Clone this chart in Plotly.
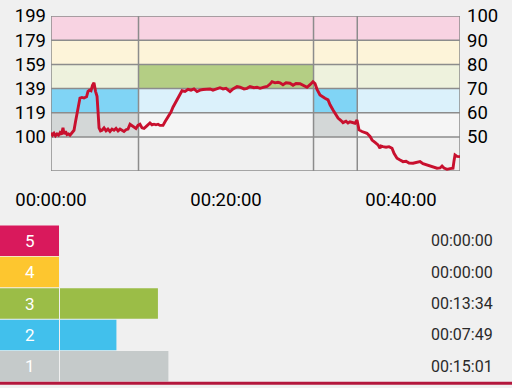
import plotly.graph_objects as go

# ---------------- data ----------------
time_min = [0, 0.17, 0.34, 0.51, 0.69, 0.86, 1.03, 1.2, 1.37, 1.49, 1.66, 1.83, 2.0, 2.17, 2.4, 2.63,
            2.8, 2.97, 3.14, 3.31, 3.54, 3.77, 4.06, 4.23, 4.4, 4.57, 4.74, 4.91, 5.09, 5.26, 5.37,
            5.49, 5.66, 5.83, 6.06, 6.29, 6.51, 6.74, 6.97, 7.2, 7.43, 7.66, 7.89, 8.11, 8.34, 8.57,
            8.8, 9.03, 9.26, 9.49, 9.71, 9.94, 10.17, 10.4, 10.63, 10.86, 11.09, 11.31, 11.54, 11.77,
            12.0, 12.23, 12.46, 12.8, 13.03, 13.37, 13.71, 13.94, 14.29, 14.51, 14.74, 14.97, 15.31,
            15.66, 16.0, 16.34, 16.69, 17.03, 17.37, 17.83, 18.17, 18.51, 18.97, 19.31, 19.66, 20.0,
            20.46, 20.8, 21.26, 21.6, 22.06, 22.4, 22.74, 23.2, 23.54, 23.89, 24.34, 24.69, 25.03,
            25.26, 25.6, 25.94, 26.17, 26.51, 26.86, 27.31, 27.66, 28.0, 28.46, 28.8, 29.26, 29.6,
            29.94, 30.17, 30.4, 30.74, 30.97, 31.31, 31.66, 31.89, 32.23, 32.57, 32.8, 33.14, 33.37,
            33.71, 33.94, 34.17, 34.51, 34.74, 34.97, 35.2, 35.54, 35.89, 36.11, 36.46, 36.69, 37.03,
            37.37, 37.6, 37.71, 37.94, 38.29, 38.63, 38.97, 39.2, 39.54, 39.89, 40.23, 40.57, 40.91,
            41.37, 41.71, 42.17, 42.51, 42.97, 43.31, 43.66, 44.11, 44.46, 44.69, 44.91, 45.26, 45.6,
            45.94, 46.06, 46.17, 46.4, 46.74]
heart_rate = [103, 101, 102.5, 100.5, 102, 101, 103, 101.5, 107, 102, 104, 101.5, 102, 101, 103, 105,
              112, 119, 127, 131.5, 132, 131.5, 132.5, 137, 138, 137.5, 142, 144, 137, 133, 121,
              107, 104.5, 105, 107, 104.5, 106, 104, 106, 105, 106.5, 104.5, 106, 105, 104, 105.5,
              106, 110, 109, 108, 106.5, 109, 110, 107, 106.5, 108, 110, 111, 109.5, 110,
              109.5, 110, 109, 109, 112, 116, 120, 124, 128.5, 132.5, 135, 137.5, 137,
              138.7, 138, 139, 136.8, 138, 138.5, 138.7, 139, 138, 139.5, 140, 139, 139.5,
              136.8, 139, 140.9, 140.5, 139, 139.5, 141, 140, 140.4, 139.5, 140.5, 141, 143,
              145, 144, 144.5, 144, 142.5, 144, 143.7, 142, 143.5, 143.3, 142, 140.4, 142.5,
              145, 143.5, 138.7, 134, 132.6, 131.3, 130, 126, 121.7, 117.5, 115, 113, 111.3,
              112.5, 111, 112, 111.5, 110.8, 113.5, 105.3, 104, 103, 102.5, 100, 97, 95,
              93, 90.2, 92, 91.5, 91, 91.5, 90.2, 86, 82, 80.5, 79.2, 79.5, 78,
              77.9, 78.5, 79.2, 77.5, 76.5, 75.5, 75, 73.8, 74, 75.6, 74, 72.9, 73.5,
              73.8, 80, 84.7, 83.5, 83.3]

zone_bounds_bpm = [99.5, 119.4, 139.3, 159.2, 179.1, 199.0]
zone_bpm_labels = ["100", "119", "139", "159", "179", "199"]
zone_pct_labels = ["50", "60", "70", "80", "90", "100"]
hr_axis_min = 71.5

segment_bounds_min = [0, 10, 30, 35, 46.74]
# highlighted zones per segment (zone index 1..5)
segment_highlights = [[1, 2], [3], [1, 2], []]

x_tick_vals = [0, 20, 40]
x_tick_text = ["00:00:00", "00:20:00", "00:40:00"]

zone_names = ["1", "2", "3", "4", "5"]
zone_seconds = [901, 469, 814, 0, 0]
zone_colors = ["#c5caca", "#41c0ec", "#9bbd47", "#fdc62f", "#d9195c"]
zone_light = ["#f5f5f5", "#dbf1fb", "#eef2dd", "#fdf4d9", "#f8d3e2"]
zone_dark = ["#d3d7d7", "#80d4f5", "#b4ce84", "#fde08a", "#ee8fb0"]

# ---------------- figure ----------------
W, H = 512, 388
BG = "#f0f0f0"
GRID = "#8c8c8c"

x_dom = [51 / W, 460 / W]
y_dom = [1 - 171 / H, 1 - 16 / H]

fig = go.Figure()

fig.add_trace(go.Scatter(x=time_min, y=heart_rate, mode="lines",
                         line=dict(color="#c8102e", width=2.9), xaxis="x", yaxis="y",
                         showlegend=False, hoverinfo="skip"))
# carrier trace for right-hand axis
fig.add_trace(go.Scatter(x=time_min, y=heart_rate, mode="lines", opacity=0,
                         line=dict(width=0), xaxis="x", yaxis="y3",
                         showlegend=False, hoverinfo="skip"))

shapes = []
# zone bands
for i in range(5):
    shapes.append(dict(type="rect", xref="x", yref="y", x0=segment_bounds_min[0],
                       x1=segment_bounds_min[-1], y0=zone_bounds_bpm[i], y1=zone_bounds_bpm[i + 1],
                       fillcolor=zone_light[i], line=dict(width=0), layer="below"))
# highlighted zones
for s, zs in enumerate(segment_highlights):
    for z in zs:
        shapes.append(dict(type="rect", xref="x", yref="y", x0=segment_bounds_min[s],
                           x1=segment_bounds_min[s + 1], y0=zone_bounds_bpm[z - 1],
                           y1=zone_bounds_bpm[z], fillcolor=zone_dark[z - 1],
                           line=dict(width=0), layer="below"))
# horizontal grid lines
for b in zone_bounds_bpm[:-1]:
    shapes.append(dict(type="line", xref="x", yref="y", x0=segment_bounds_min[0],
                       x1=segment_bounds_min[-1], y0=b, y1=b,
                       line=dict(color=GRID, width=1.5), layer="below"))
# vertical grid lines
for t in segment_bounds_min[1:-1]:
    shapes.append(dict(type="line", xref="x", yref="y", x0=t, x1=t, y0=hr_axis_min,
                       y1=zone_bounds_bpm[-1], line=dict(color=GRID, width=1.5), layer="below"))
# border
shapes.append(dict(type="rect", xref="x", yref="y", x0=segment_bounds_min[0],
                   x1=segment_bounds_min[-1], y0=hr_axis_min, y1=zone_bounds_bpm[-1],
                   line=dict(color=GRID, width=1.5), layer="below"))

# ---- bottom bar section ----
bar_x_dom = [60 / W, 1]
bar_y_dom = [1 - 382 / H, 1 - 225 / H]
half = 0.485
for i, name in enumerate(zone_names):
    shapes.append(dict(type="rect", xref="paper", yref="y2", x0=0, x1=59 / W,
                       y0=i - half, y1=i + half, fillcolor=zone_colors[i],
                       line=dict(width=0), layer="below"))

# red bottom rule
shapes.append(dict(type="line", xref="paper", yref="paper", x0=0, x1=1,
                   y0=1 - 383.2 / H, y1=1 - 383.2 / H, line=dict(color="#b4173d", width=3)))

fig.add_trace(go.Bar(x=zone_seconds, y=zone_names, orientation="h", xaxis="x2", yaxis="y2",
                     marker=dict(color=zone_colors, line=dict(width=0)),
                     showlegend=False, hoverinfo="skip"))


def fmt(sec):
    return "%02d:%02d:%02d" % (sec // 3600, (sec % 3600) // 60, sec % 60)


annotations = []
for i, name in enumerate(zone_names):
    annotations.append(dict(xref="paper", yref="y2", x=30 / W, y=i, text=name, showarrow=False,
                            font=dict(family="Roboto", size=17, color="white"),
                            xanchor="center", yanchor="middle"))
    annotations.append(dict(xref="paper", yref="y2", x=495 / W, y=i, text=fmt(zone_seconds[i]),
                            showarrow=False, font=dict(family="Roboto", size=16, color="#2a2a2a"),
                            xanchor="right", yanchor="middle"))

tick_font = dict(family="Roboto", size=18.5, color="#000000")

fig.update_layout(
    width=W, height=H,
    margin=dict(l=0, r=0, t=0, b=0, autoexpand=False),
    paper_bgcolor=BG, plot_bgcolor=BG,
    shapes=shapes, annotations=annotations,
    bargap=0.03,
    xaxis=dict(domain=x_dom, range=[segment_bounds_min[0], segment_bounds_min[-1]],
               tickvals=x_tick_vals, ticktext=x_tick_text, showgrid=False, zeroline=False,
               showline=False, ticks="", tickfont=tick_font, ticklabelstandoff=15,
               automargin=False),
    yaxis=dict(domain=y_dom, range=[hr_axis_min, zone_bounds_bpm[-1]], tickvals=zone_bounds_bpm,
               ticktext=zone_bpm_labels, showgrid=False, zeroline=False, showline=False, ticks="",
               tickfont=tick_font, ticklabelstandoff=4, automargin=False),
    yaxis3=dict(overlaying="y", side="right", anchor="x", range=[hr_axis_min, zone_bounds_bpm[-1]],
                tickvals=zone_bounds_bpm, ticktext=zone_pct_labels, showgrid=False, zeroline=False,
                showline=False, ticks="", tickfont=tick_font, ticklabelstandoff=6,
                automargin=False),
    xaxis2=dict(domain=bar_x_dom, anchor="y2", range=[0, 3757], visible=False, automargin=False),
    yaxis2=dict(domain=bar_y_dom, anchor="x2", range=[-0.5, 4.5], type="category",
                categoryorder="array", categoryarray=zone_names, visible=False, automargin=False),
)

fig.write_html("out.html")
